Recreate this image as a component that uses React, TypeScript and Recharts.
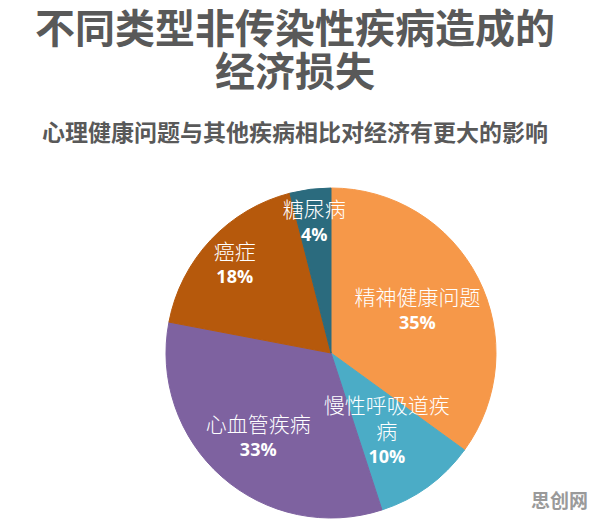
import { PieChart, Pie, Cell } from "recharts";

const categories = ["精神健康问题", "慢性呼吸道疾病", "心血管疾病", "癌症", "糖尿病"];
const shares = [35, 10, 33, 18, 4];
const colors = ["#F69849", "#4BACC6", "#7E62A0", "#B6590C", "#2B6B7E"];

const TITLE_LINES = ["不同类型非传染性疾病造成的", "经济损失"];
const SUBTITLE = "心理健康问题与其他疾病相比对经济有更大的影响";
const WATERMARK = "思创网";

const data = categories.map((name, i) => ({ name, value: shares[i] }));

const RAD = Math.PI / 180;
const NAME_SIZE = 21;
const PCT_SIZE = 18;
const LINE_H = 26;

// split long names like Excel does (6 chars per line)
function wrap(name: string) {
  const out: string[] = [];
  for (let i = 0; i < name.length; i += 6) out.push(name.slice(i, i + 6));
  return out;
}

// "best fit": push the label block out until its far corner touches the rim
const renderLabel = (props: any) => {
  const { cx, cy, midAngle, outerRadius, name, value } = props;
  const lines = wrap(name);
  const total = lines.length + 1;
  const w = Math.max(...lines.map((l) => l.length * NAME_SIZE));
  const h = total * LINE_H;
  const dx = Math.cos(-midAngle * RAD);
  const dy = Math.sin(-midAngle * RAD);
  const fit = outerRadius + 1;
  let r = outerRadius;
  while (r > 0) {
    const ex = Math.abs(r * dx) + w / 2;
    const ey = Math.abs(r * dy) + h / 2;
    if (Math.sqrt(ex * ex + ey * ey) <= fit) break;
    r -= 1;
  }
  const x = cx + r * dx;
  const y = cy + r * dy;
  const top = y - ((total - 1) * LINE_H) / 2;
  return (
    <g>
      <text
        x={x}
        y={top}
        fill="#fff"
        textAnchor="middle"
        dominantBaseline="central"
        style={{ fontFamily: "'Noto Sans CJK SC'", fontSize: NAME_SIZE, fontWeight: 300 }}
      >
        {lines.map((l, i) => (
          <tspan key={i} x={x} dy={i === 0 ? 0 : LINE_H}>
            {l}
          </tspan>
        ))}
      </text>
      <text
        x={x}
        y={top + lines.length * LINE_H}
        fill="#fff"
        textAnchor="middle"
        dominantBaseline="central"
        style={{ fontFamily: "'Open Sans', sans-serif", fontSize: PCT_SIZE, fontWeight: 700 }}
      >
        {value}%
      </text>
    </g>
  );
};

const head = {
  position: "absolute" as const,
  left: 0,
  width: 590,
  textAlign: "center" as const,
  fontFamily: "'Noto Sans CJK SC', sans-serif",
  fontWeight: 700,
  color: "#595959",
  whiteSpace: "nowrap" as const,
};

export default function App() {
  return (
    <div style={{ position: "absolute", left: 0, top: 0, width: 596, height: 520, background: "#fff" }}>
      <div style={{ ...head, top: 5, fontSize: 40, lineHeight: "43px" }}>
        {TITLE_LINES[0]}
        <br />
        {TITLE_LINES[1]}
      </div>
      <div style={{ ...head, top: 120, fontSize: 23, lineHeight: "23px" }}>{SUBTITLE}</div>
      <PieChart width={596} height={520} style={{ position: "absolute", left: 0, top: 0 }}>
        <Pie
          data={data}
          dataKey="value"
          nameKey="name"
          cx={326}
          cy={348}
          outerRadius={165}
          startAngle={90}
          endAngle={-270}
          label={renderLabel}
          labelLine={false}
          isAnimationActive={false}
        >
          {data.map((d, i) => (
            <Cell key={d.name} fill={colors[i]} stroke={colors[i]} />
          ))}
        </Pie>
      </PieChart>
      <div
        style={{
          position: "absolute",
          left: 531,
          top: 487,
          fontFamily: "'Noto Sans CJK SC', sans-serif",
          fontWeight: 700,
          fontSize: 19,
          lineHeight: "26px",
          color: "#9a9a9a",
        }}
      >
        {WATERMARK}
      </div>
    </div>
  );
}
